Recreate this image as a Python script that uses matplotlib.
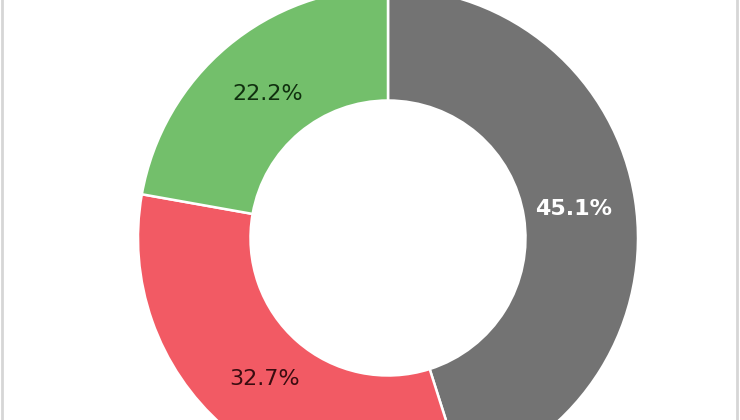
"""Donut chart: share of three categories."""

import matplotlib

matplotlib.use("Agg")
import matplotlib.pyplot as plt
from matplotlib.patches import Rectangle

# data
labels = ["Gray", "Red", "Green"]
shares = [45.1, 32.7, 22.2]
colors = ["#737373", "#F25A64", "#73BF6B"]
text_colors = ["#FFFFFF", "#3A0C10", "#10300F"]


def main() -> None:
    fig = plt.figure(figsize=(7.4, 4.2), dpi=100)
    ax = fig.add_axes([0, 0, 1, 1])

    wedges, texts, autotexts = ax.pie(
        shares,
        colors=colors,
        startangle=90,
        counterclock=False,
        radius=1.0,
        autopct="%1.1f%%",
        pctdistance=0.752,
        wedgeprops=dict(width=0.45, edgecolor="white", linewidth=1.8),
        textprops=dict(fontsize=16, family="DejaVu Sans"),
    )
    for t, c in zip(autotexts, text_colors):
        t.set_color(c)
        if c == "#FFFFFF":
            t.set_fontweight("bold")

    # the chart is cropped: centre sits at (388, 238) px, radius 250 px
    scale = 250.0
    cx, cy = 388.0, 238.0
    ax.set_xlim(-cx / scale, (740 - cx) / scale)
    ax.set_ylim(-(420 - cy) / scale, cy / scale)
    ax.set_aspect("equal", adjustable="box")
    ax.axis("off")

    # light frame around the chart area (top and bottom are cut off)
    fig.patches.append(
        Rectangle((2 / 740, -0.1), 735 / 740, 1.2, transform=fig.transFigure,
                  fill=False, edgecolor="#D6D6D6", linewidth=2.0)
    )

    fig.savefig("out.png", dpi=100)


if __name__ == "__main__":
    main()
